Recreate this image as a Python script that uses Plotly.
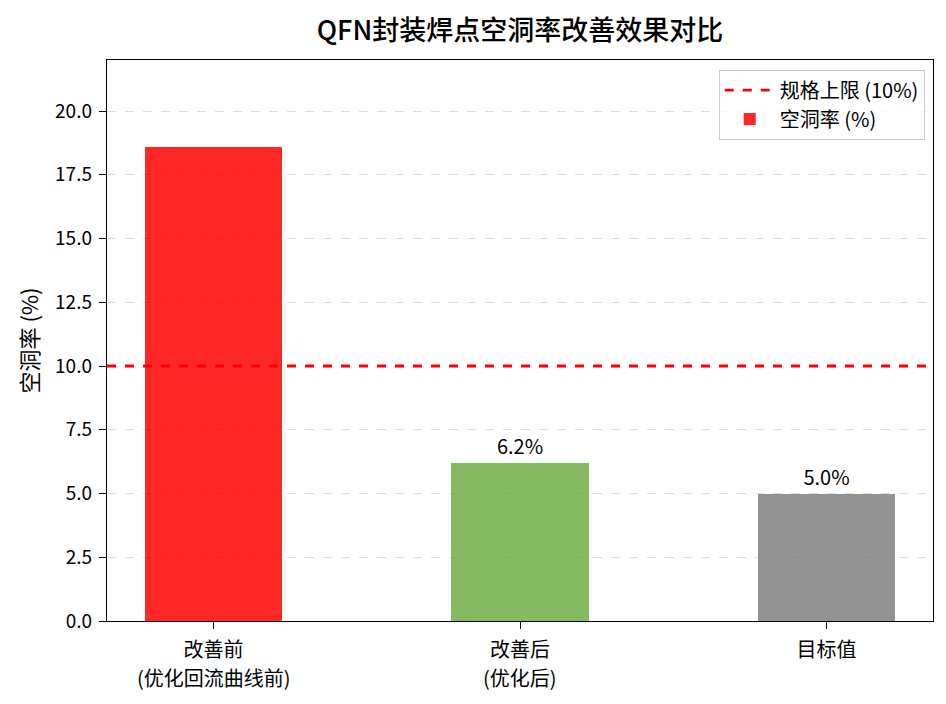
import plotly.graph_objects as go

category_main = ["改善前", "改善后", "目标值"]
category_sub = ["(优化回流曲线前)", "(优化后)", ""]
void_rates = [18.6, 6.2, 5.0]
bar_colors = ["rgba(255,0,0,0.85)", "rgba(112,173,71,0.85)", "rgba(128,128,128,0.85)"]
bar_labels = ["", "6.2%", "5.0%"]
spec_limit = 10.0
y_ticks = [0, 2.5, 5, 7.5, 10, 12.5, 15, 17.5, 20]

FONT = "Noto Sans CJK SC"
x_idx = list(range(len(category_main)))

fig = go.Figure()

fig.add_trace(go.Bar(
    x=x_idx, y=void_rates, width=0.45,
    marker=dict(color=bar_colors, line=dict(width=0)),
    text=bar_labels, textposition="outside", cliponaxis=False,
    textfont=dict(family=FONT, size=20, color="black"),
    name="空洞率 (%)",
))

fig.add_trace(go.Scatter(
    x=[-0.3475, 2.3475], y=[spec_limit, spec_limit], mode="lines",
    line=dict(color="red", width=2.8, dash="dash"),
    name="规格上限 (10%)",
))

# second line of the category labels, a bit more spaced than <br> gives
for i, sub in zip(x_idx, category_sub):
    if sub:
        fig.add_annotation(x=i, y=0, xref="x", yref="y", text=sub, showarrow=False,
                           yanchor="middle", yshift=-56, font=dict(size=20, family=FONT))

fig.update_layout(
    width=938, height=696,
    margin=dict(l=99, r=13, t=52, b=83),
    plot_bgcolor="white", paper_bgcolor="white",
    font=dict(family=FONT, size=14, color="black"),
    title=dict(text="QFN封装焊点空洞率改善效果对比", xref="paper", x=0.5, xanchor="center",
               y=0.968, yanchor="middle", font=dict(size=27, family=FONT, weight=500)),
    showlegend=True,
    legend=dict(x=0.99, y=0.983, xanchor="right", yanchor="top",
                bgcolor="rgba(255,255,255,0.8)", bordercolor="#cccccc", borderwidth=1,
                font=dict(size=20, family=FONT), traceorder="reversed", itemwidth=50),
    bargap=0,
)

fig.update_xaxes(
    range=[-0.3475, 2.3475], tickvals=x_idx, ticktext=category_main,
    showline=True, linecolor="black", linewidth=1.4, mirror=True,
    ticks="outside", ticklen=7, tickcolor="black", showgrid=False,
    tickfont=dict(size=20, family=FONT), zeroline=False, ticklabelstandoff=4,
)
fig.update_yaxes(
    range=[0, 22], tickvals=y_ticks, ticktext=[f"{v:.1f}" for v in y_ticks],
    showline=True, linecolor="black", linewidth=1.4, mirror=True,
    ticks="outside", ticklen=7, tickcolor="black",
    showgrid=True, gridcolor="rgba(200,200,200,0.6)", griddash="dash", gridwidth=1,
    title=dict(text="空洞率 (%)", font=dict(size=22, family=FONT), standoff=10),
    tickfont=dict(size=19, family=FONT), zeroline=False, ticklabelstandoff=3,
)

fig.write_html("out.html")
